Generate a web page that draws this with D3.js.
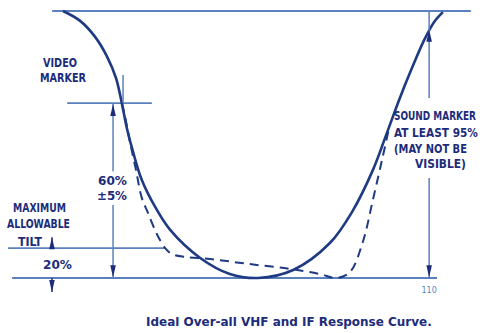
<!DOCTYPE html>
<html>
<head>
<meta charset="utf-8">
<script src="https://cdn.jsdelivr.net/npm/d3@7"></script>
<style>
  html, body { margin: 0; padding: 0; background: #ffffff; }
  svg { display: block; }
</style>
</head>
<body>
<svg id="chart" width="483" height="333"></svg>
<script>
// ---------- DATA (frequency in arbitrary units 0..100, response in % of top) ----------
const solidFreq = [2.4, 6.5, 10.1, 12.9, 15.1, 16.5, 17.7, 19.2, 21.3, 24.5, 28.1, 35.3, 42.4, 49.2, 57.6, 66.4, 71.7, 76.7, 79.9, 83.0, 86.1, 89.0, 91.4, 93.5];
const solidResp = [100, 96.3, 90.3, 83.1, 74.9, 65.5, 56.2, 47.2, 36.7, 26.6, 18.0, 7.5, 1.5, 0, 3.0, 13.1, 24.7, 40.4, 53.6, 66.7, 78.7, 89.1, 95.9, 99.6];

const dashFreq = [16.5, 17.3, 18.5, 19.9, 21.3, 22.8, 24.9, 26.9, 28.5, 31.7, 37.7, 47.2, 56.8, 64.0, 67.9, 71.2, 74.3, 76.7, 78.9, 80.6];
const dashResp = [65.5, 60.3, 50.6, 40.4, 30.0, 24.3, 16.5, 11.2, 9.0, 7.9, 7.1, 5.2, 3.4, 1.5, 0, 2.2, 13.5, 29.2, 44.2, 56.2];

// reference levels (response %)
const levelNames = ["top", "video", "tilt", "base"];
const levelResp  = [100, 65.5, 11.2, 0];
const levelFrom  = [-0.2, 3.4, -10.8, -9.8];
const levelTo    = [100.2, 23.7, 26.9, 92.1];

// marker frequencies
const videoMarkerFreq = 16.8;
const sixtyArrowFreq = 14.4;
const tiltArrowFreq = -0.25;
const soundMarkerFreq = 90.2;

const figNumber = "110";
const caption = "Ideal Over-all VHF and IF Response Curve.";

// ---------- SCALES ----------
const svg = d3.select("#chart");
const x = d3.scaleLinear().domain([0, 100]).range([53, 470]);
const y = d3.scaleLinear().domain([0, 100]).range([278, 11]);

const lineCol = "#5a80bd";
const curveCol = "#1e3a82";
const textCol = "#1c2c7a";

// ---------- reference horizontal lines ----------
levelNames.forEach((n, i) => {
  svg.append("line")
    .attr("x1", x(levelFrom[i])).attr("x2", x(levelTo[i]))
    .attr("y1", y(levelResp[i])).attr("y2", y(levelResp[i]))
    .attr("stroke", lineCol)
    .attr("stroke-width", n === "top" || n === "base" ? 2 : 1.6);
});

// ---------- curves ----------
const solidData = solidFreq.map((f, i) => [f, solidResp[i]]);
const dashData = dashFreq.map((f, i) => [f, dashResp[i]]);
const line = d3.line().x(d => x(d[0])).y(d => y(d[1])).curve(d3.curveCatmullRom.alpha(0.5));

svg.append("path").attr("d", line(dashData))
  .attr("fill", "none").attr("stroke", curveCol).attr("stroke-width", 2)
  .attr("stroke-dasharray", "9,6");

svg.append("path").attr("d", line(solidData))
  .attr("fill", "none").attr("stroke", curveCol).attr("stroke-width", 2.6);

// ---------- arrows / marker lines ----------
function vline(f, r1, r2, col, w) {
  svg.append("line")
    .attr("x1", x(f)).attr("x2", x(f))
    .attr("y1", y(r1)).attr("y2", y(r2))
    .attr("stroke", col || lineCol).attr("stroke-width", w || 1.5);
}
function head(f, r, dir) {
  // dir = -1 pointing up (tip at y(r)), +1 pointing down
  const px = x(f), py = y(r);
  const L = 12, hw = 2.8;
  const p = d3.path();
  p.moveTo(px, py);
  p.lineTo(px + hw, py - dir * L);
  p.lineTo(px - hw, py - dir * L);
  p.closePath();
  svg.append("path").attr("d", p.toString()).attr("fill", textCol);
}

// video marker pip
vline(videoMarkerFreq, 65.5, 76.0);

// 60% arrow (split around label)
vline(sixtyArrowFreq, 65.5, 40.0);
vline(sixtyArrowFreq, 27.3, 0);
head(sixtyArrowFreq, 65.2, -1);
head(sixtyArrowFreq, 0.3, 1);

// tilt arrows
vline(tiltArrowFreq, 15.3, 11.2, textCol, 1.4);
head(tiltArrowFreq, 15.3, -1);
vline(tiltArrowFreq, 0, -5.2, textCol, 1.4);
head(tiltArrowFreq, -5.2, 1);

// sound marker
vline(soundMarkerFreq, 100, 67.4);
vline(soundMarkerFreq, 37.5, 0);
head(soundMarkerFreq, 93.0, -1);
head(soundMarkerFreq, 0.3, 1);

// ---------- text ----------
const labFont = "'Liberation Sans Narrow','DejaVu Sans Condensed','Roboto','DejaVu Sans',sans-serif";
const labels = [
  ["VIDEO", 43, 67, 34, 12.5],
  ["MARKER", 40, 82, 46, 12.5],
  ["60%", 98, 185, 29, 12.5],
  ["±5%", 97, 200, 30, 12.5],
  ["MAXIMUM", 13, 212, 53, 12.5],
  ["ALLOWABLE", 7, 228, 63, 12.5],
  ["TILT", 18, 246, 24, 12.5],
  ["20%", 43, 269, 29, 12.5],
  ["SOUND MARKER", 394, 120, 82, 12],
  ["AT LEAST 95%", 394, 137, 84, 12],
  ["(MAY NOT BE", 394, 153, 73, 12],
  ["VISIBLE)", 415, 168, 51, 12]
];
// fit each label to its measured width by a horizontal scale
function fitText(str, px, py, w, fs, family, weight, col) {
  const g = svg.append("g");
  const t = g.append("text")
    .attr("x", 0).attr("y", 0)
    .attr("font-family", family).attr("font-weight", weight)
    .attr("font-size", fs).attr("fill", col)
    .text(str);
  const nat = t.node().getComputedTextLength() || w;
  g.attr("transform", `translate(${px},${py}) scale(${w / nat},1)`);
}
labels.forEach(l => fitText(l[0], l[1], l[2], l[3], l[4], labFont, "bold", textCol));

svg.append("text")
  .attr("x", x(soundMarkerFreq)).attr("y", 293)
  .attr("text-anchor", "middle")
  .attr("font-family", "'DejaVu Sans',sans-serif").attr("font-size", 8)
  .attr("fill", "#5a86c8")
  .text(figNumber);

fitText(caption, 146, 326, 286, 12, "'DejaVu Sans',sans-serif", "bold", textCol);
</script>
</body>
</html>
